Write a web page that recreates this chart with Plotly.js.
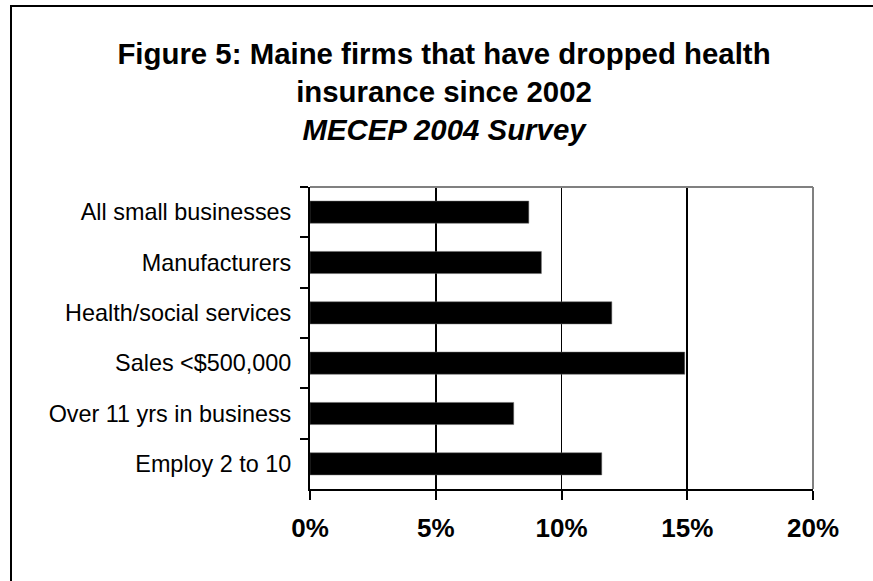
<!DOCTYPE html>
<html>
<head>
<meta charset="utf-8">
<script src="https://cdn.plot.ly/plotly-3.0.1.min.js"></script>
<style>
  html, body { margin: 0; padding: 0; background: #fff; overflow: hidden; }
  #wrap { position: relative; width: 873px; height: 581px; }
  #chart { position: absolute; left: 0; top: 0; width: 873px; height: 581px; }
  #frame { position: absolute; left: 10px; top: 5px; width: 900px; height: 700px;
           border-left: 2px solid #000; border-top: 2px solid #000; pointer-events: none; }
</style>
</head>
<body>
<div id="wrap">
  <div id="chart"></div>
  <div id="frame"></div>
</div>
<script>
const categories = [
  "All small businesses",
  "Manufacturers",
  "Health/social services",
  "Sales <$500,000",
  "Over 11 yrs in business",
  "Employ 2 to 10"
];
const values = [8.7, 9.2, 12.0, 14.9, 8.1, 11.6];
const tickValues = [0, 5, 10, 15, 20];
const tickLabels = ["0%", "5%", "10%", "15%", "20%"];

const trace = {
  type: "bar",
  orientation: "h",
  y: categories,
  x: values,
  width: 0.44,
  marker: { color: "#000000", line: { color: "#666666", width: 0.5 } },
  hoverinfo: "none"
};

const layout = {
  width: 873,
  height: 581,
  margin: { l: 310, r: 60, t: 187, b: 92, pad: 0 },
  paper_bgcolor: "#ffffff",
  plot_bgcolor: "#ffffff",
  showlegend: false,
  font: { family: "Liberation Sans, Arial, sans-serif", color: "#000" },
  title: {
    text: "Figure 5: Maine firms that have dropped health<br>insurance since 2002<br><i>MECEP 2004 Survey</i>",
    font: { family: "Liberation Sans, Arial, sans-serif", size: 29.4, weight: "bold", color: "#000" },
    xref: "container", yref: "container",
    x: 444 / 873, xanchor: "center",
    y: 1 - 64 / 581, yanchor: "top"
  },
  xaxis: {
    range: [0, 20],
    tickvals: tickValues,
    ticktext: tickLabels,
    showgrid: true,
    gridcolor: "#000000",
    gridwidth: 1.8,
    zeroline: false,
    showline: true,
    linecolor: "#000000",
    linewidth: 2,
    ticks: "outside",
    ticklen: 9,
    tickwidth: 2,
    tickcolor: "#000000",
    ticklabelstandoff: 6,
    tickfont: { family: "Liberation Sans, Arial, sans-serif", size: 26, weight: "bold", color: "#000" },
    fixedrange: true
  },
  yaxis: {
    type: "category",
    autorange: "reversed",
    showgrid: false,
    zeroline: false,
    showline: true,
    linecolor: "#000000",
    linewidth: 2,
    ticks: "outside",
    tickson: "boundaries",
    ticklen: 8,
    tickwidth: 2,
    tickcolor: "#000000",
    ticklabelstandoff: 12,
    tickfont: { family: "Liberation Sans, Arial, sans-serif", size: 23.4, color: "#000" },
    fixedrange: true
  },
  shapes: [
    { type: "line", xref: "paper", yref: "paper", x0: 0, x1: 1, y0: 1, y1: 1,
      line: { color: "#808080", width: 2 }, layer: "above" },
    { type: "line", xref: "paper", yref: "paper", x0: 1, x1: 1, y0: 0, y1: 1,
      line: { color: "#808080", width: 2 }, layer: "above" }
  ]
};

Plotly.newPlot("chart", [trace], layout, { staticPlot: true, displayModeBar: false });
</script>
</body>
</html>
